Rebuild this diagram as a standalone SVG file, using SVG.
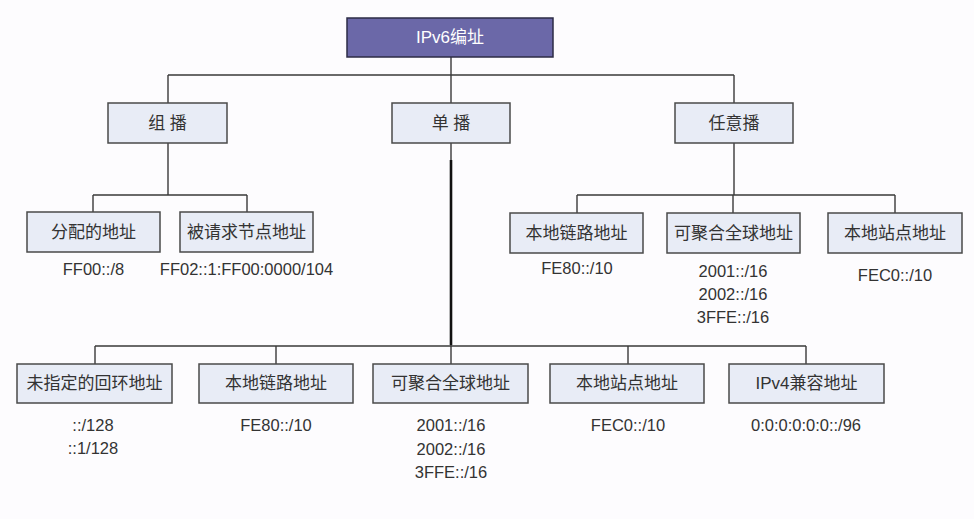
<svg xmlns="http://www.w3.org/2000/svg" width="974" height="519" viewBox="0 0 974 519">
  <style>
    .box { fill: #e8ecf6; stroke: #4a4a4a; stroke-width: 1.5; }
    .root { fill: #6b68a8; stroke: #2c2b45; stroke-width: 1.5; }
    .lbl { font-family: "Liberation Sans", "Noto Sans CJK SC", sans-serif; font-size: 17px; fill: #333; text-anchor: middle; dominant-baseline: central; }
    .rootlbl { font-family: "Liberation Sans", "Noto Sans CJK SC", sans-serif; font-size: 17px; fill: #ffffff; text-anchor: middle; dominant-baseline: central; }
    .addr { font-family: "Liberation Sans", "Noto Sans CJK SC", sans-serif; font-size: 16.5px; fill: #333; text-anchor: middle; }
    .wire { fill: none; stroke: #3a3a3a; stroke-width: 1.4; }
    .trunk { fill: none; stroke: #111; stroke-width: 2.6; }
  </style>
  <rect width="974" height="519" fill="#fdfcfe"/>

  <!-- connectors -->
  <g id="connectors">
    <path class="wire" d="M451 57 V75 M168 75 H734 M168 75 V103 M451 75 V103 M734 75 V103"/>
    <path class="wire" d="M168 143 V195 M93 195 H247 M93 195 V212 M247 195 V212"/>
    <path class="wire" d="M734 143 V195 M577 195 H895 M577 195 V213 M733 195 V213 M895 195 V213"/>
    <path class="wire" d="M451 143 V346 M95 346 H806 M95 346 V364 M276 346 V364 M451 346 V364 M628 346 V364 M806 346 V364"/>
    <path class="trunk" d="M451 160 V345"/>
  </g>

  <!-- root -->
  <g id="ipv6">
    <rect class="root" x="347" y="18" width="206" height="39"/>
    <text class="rootlbl" x="450" y="37.5">IPv6编址</text>
  </g>

  <!-- second level -->
  <g id="multicast">
    <rect class="box" x="108" y="103" width="119" height="40"/>
    <text class="lbl" x="167.5" y="123">组 播</text>
  </g>
  <g id="unicast">
    <rect class="box" x="392" y="103" width="118" height="40"/>
    <text class="lbl" x="451" y="123">单 播</text>
  </g>
  <g id="anycast">
    <rect class="box" x="675" y="103" width="118" height="40"/>
    <text class="lbl" x="734" y="123">任意播</text>
  </g>

  <!-- multicast children -->
  <g id="mc-assigned">
    <rect class="box" x="27" y="212" width="133" height="40"/>
    <text class="lbl" x="93.5" y="232">分配的地址</text>
    <text class="addr" x="93.5" y="275">FF00::/8</text>
  </g>
  <g id="mc-solicited">
    <rect class="box" x="180" y="212" width="133" height="40"/>
    <text class="lbl" x="246.5" y="232">被请求节点地址</text>
    <text class="addr" x="246.5" y="275">FF02::1:FF00:0000/104</text>
  </g>

  <!-- anycast children -->
  <g id="ac-link-local">
    <rect class="box" x="510" y="213" width="133" height="40"/>
    <text class="lbl" x="576.5" y="233">本地链路地址</text>
    <text class="addr" x="577" y="274">FE80::/10</text>
  </g>
  <g id="ac-global">
    <rect class="box" x="667" y="213" width="133" height="40"/>
    <text class="lbl" x="733.5" y="233">可聚合全球地址</text>
    <text class="addr" x="733" y="277">2001::/16</text>
    <text class="addr" x="733" y="300">2002::/16</text>
    <text class="addr" x="733" y="323">3FFE::/16</text>
  </g>
  <g id="ac-site-local">
    <rect class="box" x="828" y="213" width="134" height="40"/>
    <text class="lbl" x="895" y="233">本地站点地址</text>
    <text class="addr" x="895" y="281">FEC0::/10</text>
  </g>

  <!-- unicast children -->
  <g id="uc-unspecified">
    <rect class="box" x="17" y="364" width="155" height="39"/>
    <text class="lbl" x="94.5" y="383.5">未指定的回环地址</text>
    <text class="addr" x="93" y="431">::/128</text>
    <text class="addr" x="93" y="454">::1/128</text>
  </g>
  <g id="uc-link-local">
    <rect class="box" x="199" y="364" width="154" height="39"/>
    <text class="lbl" x="276" y="383.5">本地链路地址</text>
    <text class="addr" x="276" y="431">FE80::/10</text>
  </g>
  <g id="uc-global">
    <rect class="box" x="373" y="364" width="155" height="39"/>
    <text class="lbl" x="450.5" y="383.5">可聚合全球地址</text>
    <text class="addr" x="451" y="431">2001::/16</text>
    <text class="addr" x="451" y="455">2002::/16</text>
    <text class="addr" x="451" y="478">3FFE::/16</text>
  </g>
  <g id="uc-site-local">
    <rect class="box" x="550" y="364" width="154" height="39"/>
    <text class="lbl" x="627" y="383.5">本地站点地址</text>
    <text class="addr" x="628" y="431">FEC0::/10</text>
  </g>
  <g id="uc-ipv4-compat">
    <rect class="box" x="729" y="364" width="155" height="39"/>
    <text class="lbl" x="806.5" y="383.5">IPv4兼容地址</text>
    <text class="addr" x="806" y="431">0:0:0:0:0:0::/96</text>
  </g>
</svg>
